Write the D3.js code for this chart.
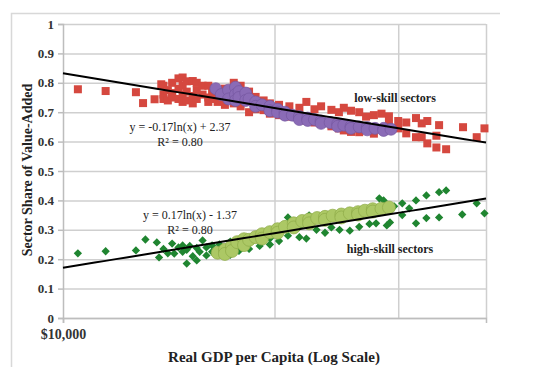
<!DOCTYPE html>
<html>
<head>
<meta charset="utf-8">
<script src="https://cdn.jsdelivr.net/npm/d3@7"></script>
<style>
  body { margin: 0; background: #fff; overflow: hidden; }
  svg { display: block; }
  .chart-svg text { font-family: 'Liberation Serif', 'DejaVu Serif', serif; font-weight: bold; fill: #222; }
  .grid line { stroke: #cfcfcf; stroke-width: 1.5; }
  .grid .domain { display: none; }
</style>
</head>
<body>
<div id="chart"></div>
<script>
// GDP per capita in thousands of dollars, sector share of value added
const lowSkillSectors = [
  [10.5, 0.778], [11.5, 0.772], [12.7, 0.768], [13.0, 0.731], [13.5, 0.744], [13.8, 0.795],
  [13.9, 0.79], [13.9, 0.76], [13.9, 0.745], [14.1, 0.775], [14.1, 0.74],
  [14.3, 0.80], [14.3, 0.765], [14.3, 0.75], [14.6, 0.815], [14.6, 0.78], [14.6, 0.745],
  [14.8, 0.818], [14.8, 0.79], [14.8, 0.76], [14.8, 0.735], [15.0, 0.805], [15.0, 0.77], [15.0, 0.74],
  [15.3, 0.806], [15.3, 0.755], [15.3, 0.73], [15.5, 0.80], [15.5, 0.775], [15.5, 0.745],
  [15.8, 0.79], [15.8, 0.76], [16.1, 0.79], [16.1, 0.75], [16.1, 0.735], [16.3, 0.77], [16.3, 0.745],
  [16.6, 0.765], [16.6, 0.735], [17.0, 0.78], [17.0, 0.725], [17.5, 0.80], [17.5, 0.73],
  [17.9, 0.79], [17.9, 0.72], [18.4, 0.77], [18.4, 0.70], [18.8, 0.752], [18.8, 0.71],
  [19.3, 0.74], [19.3, 0.707], [19.7, 0.73], [19.7, 0.695],
  [20.3, 0.725], [20.3, 0.69], [21.0, 0.72], [21.0, 0.685], [21.7, 0.715], [21.7, 0.68],
  [22.2, 0.735], [22.2, 0.672], [22.8, 0.71], [22.8, 0.665], [23.3, 0.72], [23.3, 0.66],
  [24.1, 0.708], [24.1, 0.652], [24.7, 0.70], [24.7, 0.645], [25.1, 0.715], [25.1, 0.638],
  [25.7, 0.705], [25.7, 0.633], [26.4, 0.70], [26.4, 0.632], [27.0, 0.685], [27.0, 0.64],
  [27.7, 0.69], [27.7, 0.627], [28.4, 0.695], [28.4, 0.645], [29.1, 0.686], [29.1, 0.66],
  [30.0, 0.67], [30.0, 0.645], [30.8, 0.665], [30.8, 0.628], [31.8, 0.68], [31.8, 0.615],
  [32.4, 0.662], [32.4, 0.615], [33.0, 0.67], [33.0, 0.594], [34.0, 0.62], [34.0, 0.58],
  [34.3, 0.656], [35.1, 0.574], [37.1, 0.649], [38.8, 0.615], [39.8, 0.645]
]
const lowSkillSubset = [
  [16.5, 0.78], [16.8, 0.76], [17.2, 0.775], [17.2, 0.745], [17.6, 0.785], [17.6, 0.76], [17.6, 0.74],
  [17.8, 0.77], [17.8, 0.75], [18.2, 0.765], [18.2, 0.74], [18.4, 0.745], [18.8, 0.735], [18.8, 0.72],
  [19.2, 0.725], [19.7, 0.72], [19.7, 0.705], [20.2, 0.71], [20.2, 0.70], [20.7, 0.70], [20.7, 0.69],
  [21.2, 0.69], [21.7, 0.685], [21.7, 0.675], [22.3, 0.68], [22.3, 0.672], [22.8, 0.675],
  [23.3, 0.67], [23.3, 0.662], [24.0, 0.665], [24.6, 0.66], [24.6, 0.652], [25.1, 0.656],
  [25.7, 0.652], [25.7, 0.645], [26.4, 0.65], [27.1, 0.648], [27.1, 0.64], [27.8, 0.645],
  [28.6, 0.645], [28.6, 0.638], [29.3, 0.642]
]
const highSkillSectors = [
  [10.5, 0.22], [11.5, 0.227], [12.7, 0.23], [13.1, 0.267], [13.6, 0.257], [13.7, 0.206],
  [13.9, 0.235], [14.1, 0.22], [14.3, 0.253], [14.4, 0.219], [14.6, 0.24], [14.8, 0.247], [14.8, 0.225],
  [15.0, 0.185], [15.0, 0.232], [15.15, 0.245], [15.3, 0.21], [15.5, 0.196], [15.5, 0.238],
  [15.65, 0.225], [15.8, 0.264], [16.0, 0.213], [16.0, 0.24], [16.3, 0.247], [16.3, 0.225],
  [16.7, 0.23], [16.7, 0.25], [17.3, 0.215], [17.3, 0.26], [17.8, 0.247], [17.8, 0.228],
  [18.4, 0.27], [18.4, 0.235], [19.05, 0.245], [19.05, 0.278], [19.7, 0.27], [19.7, 0.25],
  [20.3, 0.29], [20.3, 0.262], [20.9, 0.342], [20.9, 0.28], [21.2, 0.305], [21.7, 0.275], [21.7, 0.31],
  [22.2, 0.27], [22.4, 0.349], [22.95, 0.345], [22.95, 0.3], [23.6, 0.33], [23.6, 0.29],
  [24.1, 0.308], [24.75, 0.352], [24.75, 0.3], [25.6, 0.297], [25.6, 0.36], [26.4, 0.31], [26.4, 0.365],
  [27.3, 0.37], [27.3, 0.32], [27.9, 0.322], [28.2, 0.407], [28.6, 0.40], [28.9, 0.315], [29.2, 0.325],
  [29.6, 0.38], [30.4, 0.39], [30.4, 0.35], [31.1, 0.373], [31.8, 0.40], [31.8, 0.322],
  [32.9, 0.417], [32.9, 0.34], [34.3, 0.428], [34.3, 0.342], [35.1, 0.434], [37.0, 0.352],
  [38.8, 0.39], [39.8, 0.356]
]
const highSkillSubset = [
  [16.6, 0.222], [17.0, 0.232], [17.0, 0.218], [17.4, 0.245], [17.4, 0.228],
  [17.7, 0.258], [18.1, 0.268], [18.1, 0.248], [18.4, 0.266],
  [18.8, 0.275], [19.2, 0.285], [19.2, 0.27], [19.7, 0.292], [20.2, 0.302], [20.2, 0.29],
  [20.7, 0.31], [21.3, 0.322], [21.3, 0.308], [21.9, 0.33], [22.4, 0.335], [22.4, 0.322],
  [23.0, 0.34], [23.6, 0.344], [23.6, 0.334], [24.2, 0.348], [24.9, 0.352], [24.9, 0.342],
  [25.6, 0.356], [26.3, 0.36], [26.3, 0.352], [26.9, 0.365], [27.6, 0.37], [27.6, 0.362],
  [28.4, 0.372], [29.1, 0.376]
]
// trend lines: share = slope * ln(gdp) + intercept
const trendSlopes = [-0.17, 0.17]
const trendIntercepts = [2.398, -1.395]
const equationLabels = ['y = -0.17ln(x) + 2.37', 'y = 0.17ln(x) - 1.37']
const rSquaredLabels = ['R² = 0.80', 'R² = 0.80']
const seriesLabels = ['low-skill sectors', 'high-skill sectors']
const yTicks = [0, 0.1, 0.2, 0.3, 0.4, 0.5, 0.6, 0.7, 0.8, 0.9, 1]
const xGridTicks = [10000, 20000, 30000, 40000]
const xTickLabels = ['$10,000']

const width = 549
const height = 374
const margin = { top: 24, right: 63, bottom: 56, left: 63 }
const innerWidth = width - margin.left - margin.right
const innerHeight = height - margin.top - margin.bottom

const svg = d3.select('#chart')
  .append('svg')
  .attr('width', width)
  .attr('height', height)
  .attr('class', 'chart-svg')

// outer chart frame (only top and left edges show)
svg.append('path')
  .attr('d', 'M11.5,367 V13.5 H500')
  .attr('fill', 'none')
  .attr('stroke', '#d8d8d8')
  .attr('stroke-width', 1.5)

const g = svg.append('g')
  .attr('transform', `translate(${margin.left}, ${margin.top})`)

const xScale = d3.scaleLog().domain([10000, 40000]).range([0, innerWidth])
const yScale = d3.scaleLinear().domain([0, 1]).range([innerHeight, 0])

// Y gridlines
g.append('g')
  .attr('class', 'grid')
  .call(d3.axisLeft(yScale).tickValues(yTicks).tickSize(-innerWidth).tickFormat(''))
  .call(s => s.selectAll('text').remove())

// X gridlines
g.append('g')
  .attr('class', 'grid')
  .attr('transform', `translate(0, ${innerHeight})`)
  .call(d3.axisBottom(xScale).tickValues(xGridTicks.slice(1)).tickSize(-innerHeight).tickFormat(''))
  .call(s => s.selectAll('text').remove())

// Left axis
const yAxis = g.append('g')
  .call(d3.axisLeft(yScale).tickValues(yTicks).tickSize(5).tickPadding(4).tickFormat(d => d === 0 || d === 1 ? d3.format('d')(d) : d3.format('.1f')(d)))
yAxis.select('.domain').attr('stroke', '#bdbdbd').attr('stroke-width', 1.5)
yAxis.selectAll('.tick line').attr('stroke', '#bdbdbd').attr('stroke-width', 1.5)
yAxis.selectAll('.tick text').attr('font-size', 13).style('fill', '#333')

// Bottom axis
const xAxis = g.append('g')
  .attr('transform', `translate(0, ${innerHeight})`)
  .call(d3.axisBottom(xScale).tickValues(xGridTicks.slice(0, 1)).tickSize(5).tickPadding(6).tickFormat((d, i) => xTickLabels[i]))
xAxis.select('.domain').attr('stroke', '#bdbdbd').attr('stroke-width', 1.5)
xAxis.selectAll('.tick line').attr('stroke', '#bdbdbd').attr('stroke-width', 1.5)
xAxis.selectAll('.tick text').attr('font-size', 14).style('fill', '#333')

const px = d => xScale(d[0] * 1000)
const py = d => yScale(d[1])

// low-skill series
g.append('g').selectAll('rect')
  .data(lowSkillSectors)
  .join('rect')
  .attr('x', d => px(d) - 4)
  .attr('y', d => py(d) - 4)
  .attr('width', 8)
  .attr('height', 8)
  .attr('fill', '#d5483f')

g.append('g').selectAll('circle')
  .data(lowSkillSubset)
  .join('circle')
  .attr('cx', px)
  .attr('cy', py)
  .attr('r', 6)
  .attr('fill', '#8a6bb6')
  .attr('stroke', '#7558a0')
  .attr('stroke-width', 0.7)

// high-skill series
const diamond = d3.symbol().type(d3.symbolDiamond2).size(44)
g.append('g').selectAll('path')
  .data(highSkillSectors)
  .join('path')
  .attr('transform', d => `translate(${px(d)}, ${py(d)})`)
  .attr('d', diamond)
  .attr('fill', '#1f8530')

g.append('g').selectAll('circle')
  .data(highSkillSubset)
  .join('circle')
  .attr('cx', px)
  .attr('cy', py)
  .attr('r', 6.5)
  .attr('fill', '#acc865')
  .attr('stroke', '#8eaa48')
  .attr('stroke-width', 0.7)

// trend lines
const gdpRange = d3.range(0, 41).map(i => 10000 * Math.pow(4, i / 40))
trendSlopes.forEach((slope, i) => {
  const line = d3.line()
    .x(d => xScale(d))
    .y(d => yScale(slope * Math.log(d) + trendIntercepts[i]))
  g.append('path')
    .datum(gdpRange)
    .attr('d', line)
    .attr('fill', 'none')
    .attr('stroke', '#000')
    .attr('stroke-width', 2)
})

// equation annotations
const eqPos = [[117, 107], [127, 195]]
equationLabels.forEach((label, i) => {
  g.append('text')
    .attr('x', eqPos[i][0])
    .attr('y', eqPos[i][1])
    .attr('text-anchor', 'middle')
    .attr('font-size', 12)
    .style('font-weight', 'normal')
    .text(label)
  g.append('text')
    .attr('x', eqPos[i][0])
    .attr('y', eqPos[i][1] + 15)
    .attr('text-anchor', 'middle')
    .attr('font-size', 12)
    .style('font-weight', 'normal')
    .text(rSquaredLabels[i])
})

// series labels
const seriesPos = [[332, 78], [327, 229]]
seriesLabels.forEach((label, i) => {
  g.append('text')
    .attr('x', seriesPos[i][0])
    .attr('y', seriesPos[i][1])
    .attr('text-anchor', 'middle')
    .attr('font-size', 12)
    .text(label)
})

// axis titles
svg.append('text')
  .attr('x', 274)
  .attr('y', 362)
  .attr('text-anchor', 'middle')
  .attr('font-size', 15)
  .text('Real GDP per Capita (Log Scale)')

svg.append('text')
  .attr('transform', 'rotate(-90)')
  .attr('x', -170)
  .attr('y', 32)
  .attr('text-anchor', 'middle')
  .attr('font-size', 14)
  .text('Sector Share of Value-Added')
</script>
</body>
</html>
